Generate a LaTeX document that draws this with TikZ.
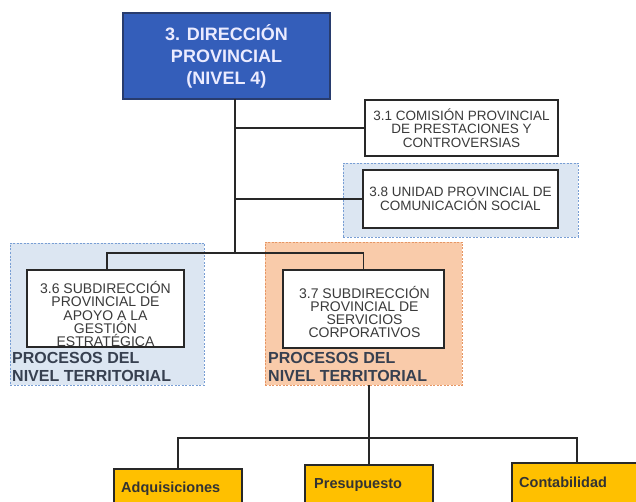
\documentclass[tikz,border=0pt]{standalone}
\usepackage{fontspec}
\setmainfont{Liberation Sans}
\usetikzlibrary{positioning}

\definecolor{dirblue}{RGB}{52,94,186}
\definecolor{dirframe}{RGB}{40,60,110}
\definecolor{paleblue}{RGB}{220,230,242}
\definecolor{dashblue}{RGB}{120,158,212}
\definecolor{peach}{RGB}{249,203,170}
\definecolor{dashorange}{RGB}{230,150,100}
\definecolor{unityellow}{RGB}{255,192,0}
\definecolor{frame}{RGB}{40,40,40}
\definecolor{boxtext}{RGB}{58,58,58}
\definecolor{areatext}{RGB}{55,64,80}

\tikzset{
  unitbox/.style={draw=frame, line width=1.6pt, fill=white, inner sep=0pt, outer sep=0pt,
    align=center, text=boxtext, font=\fontsize{13.5}{13.5}\selectfont},
  subunit/.style={inner sep=0pt, align=center, text=boxtext, font=\fontsize{14}{13.2}\selectfont},
  bluearea/.style={draw=dashblue, fill=paleblue, line width=0.9pt,
    dash pattern=on 2pt off 1.5pt, inner sep=0pt, outer sep=0pt},
  orangearea/.style={draw=dashorange, fill=peach, line width=0.9pt,
    dash pattern=on 2pt off 1.5pt, inner sep=0pt, outer sep=0pt},
  arealabel/.style={anchor=west, inner sep=0pt, align=left, text=areatext,
    font=\bfseries\fontsize{16}{18}\selectfont},
  yellowbox/.style={draw=frame, line width=1.4pt, fill=unityellow, inner sep=0pt, outer sep=0pt},
  yellowtext/.style={anchor=west, inner sep=0pt, text=black!80, font=\bfseries\fontsize{14.5}{16}\selectfont},
  link/.style={draw=frame, line width=1.6pt}
}

\begin{document}
\begin{tikzpicture}[x=1pt, y=-1pt]
  \useasboundingbox (0,0) rectangle (636,502);
  \clip (0,0) rectangle (636,502);

  % shaded process areas
  \node[bluearea, minimum width=235pt, minimum height=74pt] (grp38) at (460.5,200) {};
  \node[bluearea, minimum width=194pt, minimum height=142pt] (grpL) at (107,314) {};
  \node[orangearea, minimum width=197pt, minimum height=143pt] (grpR) at (363.5,313.5) {};

  % junction points of the tree
  \coordinate (j0) at (235,253);
  \coordinate (j1) at (369,438);

  % top unit
  \node[draw=dirframe, line width=1.6pt, fill=dirblue, inner sep=0pt, outer sep=0pt,
        minimum width=207pt, minimum height=86pt, align=center, text=white!92!blue,
        font=\bfseries\fontsize{18}{22}\selectfont] (dir) at (226.5,56)
        {3. DIRECCIÓN\\PROVINCIAL\\(NIVEL 4)};

  % units under the direction
  \node[unitbox, minimum width=193pt, minimum height=56pt] (c31) at (461.5,128)
        {3.1 COMISIÓN PROVINCIAL\\DE PRESTACIONES Y\\CONTROVERSIAS};
  \node[unitbox, minimum width=195pt, minimum height=58pt] (c38) at (460.5,199)
        {3.8 UNIDAD PROVINCIAL DE\\COMUNICACIÓN SOCIAL};
  \node[unitbox, minimum width=157pt, minimum height=77pt] (c36) at (105.5,308.5) {};
  \node[subunit] (c36t) at (105.5,314)
        {3.6 SUBDIRECCIÓN\\PROVINCIAL DE\\APOYO A LA\\GESTIÓN\\ESTRATÉGICA};
  \node[unitbox, minimum width=161pt, minimum height=78pt] (c37) at (363.5,309) {};
  \node[subunit] (c37t) at (364.5,312)
        {3.7 SUBDIRECCIÓN\\PROVINCIAL DE\\SERVICIOS\\CORPORATIVOS};

  % area captions
  \node[arealabel] (lblL) at (12,367) {PROCESOS DEL\\NIVEL TERRITORIAL};
  \node[arealabel] (lblR) at (268,367) {PROCESOS DEL\\NIVEL TERRITORIAL};

  % connectors of the upper tree
  \draw[link] (dir.south -| j0) -- (j0);
  \draw[link] (c31.west -| j0) -- (c31.west);
  \draw[link] (c38.west -| j0) -- (c38.west);
  \draw[link] (c36.north -| 107,0) |- (j0) -| (c37.north);

  % bottom units
  \node[yellowbox, minimum width=128pt, minimum height=60pt, anchor=north] (adq) at (178,469) {};
  \node[yellowbox, minimum width=128pt, minimum height=60pt, anchor=north] (pres) at (369,465) {};
  \node[yellowbox, minimum width=130pt, minimum height=60pt, anchor=north] (cont) at (577,463) {};
  \node[yellowtext] (adqt) at (121,489) {Adquisiciones};
  \node[yellowtext] (prest) at (314,485) {Presupuesto};
  \node[yellowtext] (contt) at (519,482) {Contabilidad};

  % connectors of the lower tree
  \draw[link] (grpR.south -| j1) -- (j1);
  \draw[link] (adq.north) |- (j1) -| (cont.north);
  \draw[link] (j1) -- (pres.north);
\end{tikzpicture}
\end{document}
